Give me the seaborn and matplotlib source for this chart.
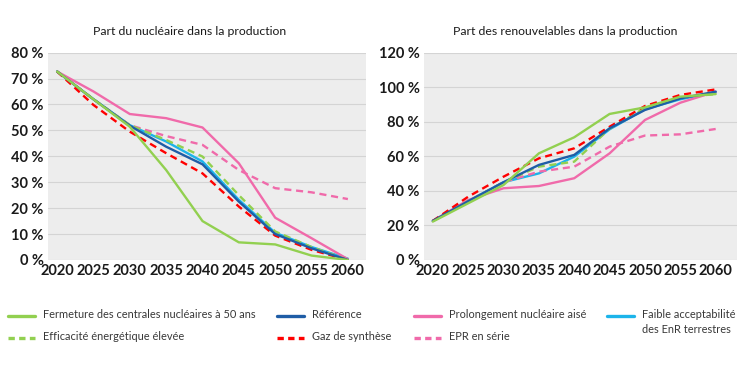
import numpy as np
import matplotlib
matplotlib.use("Agg")
import matplotlib.pyplot as plt
import seaborn as sns
from matplotlib.lines import Line2D
from matplotlib.ticker import FuncFormatter

years = [2020, 2025, 2030, 2035, 2040, 2045, 2050, 2055, 2060]

# part du nucléaire (%)
nuc_fermeture = [72.7, 62.0, 51.4, 34.7, 15.0, 6.8, 6.0, 1.7, 0.0]
nuc_reference = [72.7, 62.0, 51.8, 43.7, 36.9, 22.5, 10.0, 4.5, 0.0]
nuc_prolongement = [72.7, 65.0, 56.3, 54.7, 51.1, 37.3, 16.3, 8.4, 0.3]
nuc_faible_enr = [72.7, 62.0, 52.0, 45.7, 38.0, 23.2, 10.5, 5.0, 0.5]
nuc_efficacite = [72.7, 62.0, 52.0, 46.3, 39.9, 25.0, 11.0, 5.0, 0.0]
nuc_gaz = [72.7, 59.8, 49.5, 41.2, 33.4, 20.6, 9.4, 3.9, 0.0]
nuc_epr = [72.7, 62.0, 52.0, 47.8, 44.4, 34.7, 27.7, 26.1, 23.5]

# part des renouvelables (%)
enr_fermeture = [22.2, 32.8, 43.4, 61.7, 71.0, 84.5, 88.3, 94.5, 96.0]
enr_reference = [22.6, 34.0, 45.0, 55.0, 60.8, 76.2, 86.8, 93.5, 97.4]
enr_prolongement = [22.6, 34.7, 41.5, 42.8, 47.3, 61.7, 81.0, 91.0, 97.4]
enr_faible_enr = [22.6, 34.0, 45.0, 50.1, 59.8, 75.6, 87.2, 93.0, 97.0]
enr_efficacite = [22.6, 34.0, 45.0, 54.0, 56.9, 76.0, 88.0, 94.0, 96.0]
enr_gaz = [22.6, 36.6, 48.2, 58.8, 64.6, 77.1, 89.1, 95.5, 98.7]
enr_epr = [22.6, 34.0, 45.0, 51.1, 54.0, 65.6, 72.0, 72.7, 75.8]

labels = ["Fermeture des centrales nucléaires à 50 ans", "Efficacité énergétique élevée",
          "Référence", "Gaz de synthèse",
          "Prolongement nucléaire aisé", "EPR en série",
          "Faible acceptabilité\ndes EnR terrestres"]
colors = ["#92D050", "#92D050", "#1F5DA6", "#FF0000", "#F06AAA", "#F06AAA", "#1CB4EA"]
styles = ["-", (0, (3, 2)), "-", (0, (3, 2)), "-", (0, (3, 2)), "-"]

nuc = [nuc_fermeture, nuc_efficacite, nuc_reference, nuc_gaz, nuc_prolongement, nuc_epr, nuc_faible_enr]
enr = [enr_fermeture, enr_efficacite, enr_reference, enr_gaz, enr_prolongement, enr_epr, enr_faible_enr]

sns.set_theme(style="white")
plt.rcParams['font.family'] = ['Lato', 'DejaVu Sans']

W, H = 754, 373
fig = plt.figure(figsize=(W / 100, H / 100), dpi=100)
ax1 = fig.add_axes([0.0637, 0.303, 0.4218, 0.556])
ax2 = fig.add_axes([0.5623, 0.303, 0.415, 0.556])


def draw(ax, series, ymax, step, xlim):
    ax.set_facecolor("#EDEDED")
    for z, i in enumerate([6, 5, 4, 1, 3, 2, 0]):
        sns.lineplot(x=years, y=series[i], ax=ax, color=colors[i], linestyle=styles[i],
                     linewidth=1.7, zorder=3 + z)
    ax.set_ylim(0, ymax)
    ax.set_xlim(*xlim)
    ax.set_yticks(np.arange(0, ymax + 1, step))
    ax.set_xticks(years)
    ax.yaxis.set_major_formatter(FuncFormatter(lambda v, p: f"{int(v)} %"))
    ax.grid(axis="y", color="#D4D4D4", linewidth=0.8)
    ax.set_axisbelow(True)
    for s in ax.spines.values():
        s.set_visible(False)
    ax.tick_params(length=0, labelsize=10.5, colors="#1a1a1a", pad=3)
    for t in ax.get_xticklabels() + ax.get_yticklabels():
        t.set_fontweight("bold")
    ax.set_xlabel("")
    ax.set_ylabel("")


draw(ax1, nuc, 80, 10, (2018.75, 2062.5))
draw(ax2, enr, 120, 20, (2018.75, 2063.0))

fig.text(0.252, 0.905, "Part du nucléaire dans la production", ha="center", fontsize=8.8, color="#1a1a1a")
fig.text(0.749, 0.905, "Part des renouvelables dans la production", ha="center", fontsize=8.8, color="#1a1a1a")

# legend, laid out by hand: (handle x, row y) in pixels
leg_pos = [(8, 316), (8, 338), (277, 316), (277, 338), (414, 316), (414, 338), (607, 316)]
for i, (px, py) in enumerate(leg_pos):
    y = 1 - py / H
    fig.add_artist(Line2D([px / W, (px + 27) / W], [y, y], color=colors[i],
                          linestyle=(0, (1.9, 1.3)) if styles[i] != "-" else "-",
                          linewidth=2.4, transform=fig.transFigure))
    fig.text((px + 35) / W, y + 0.019, labels[i], ha="left", va="top", fontsize=7.9,
             color="#383838", linespacing=1.45)

fig.savefig("out.png", dpi=100, facecolor="white")
